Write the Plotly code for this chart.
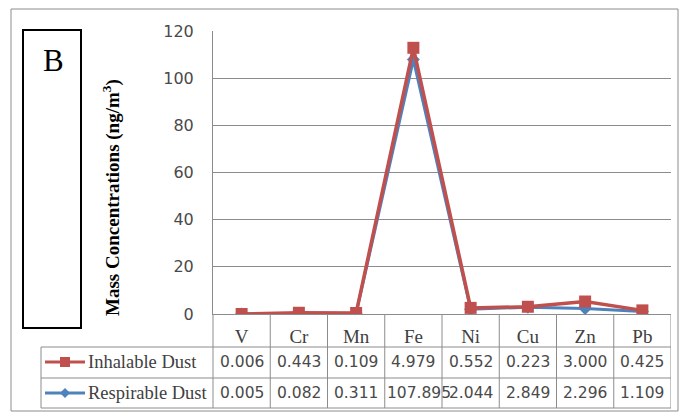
import plotly.graph_objects as go

# ---- data ----
categories = ["V", "Cr", "Mn", "Fe", "Ni", "Cu", "Zn", "Pb"]
inhalable = [0.006, 0.443, 0.109, 4.979, 0.552, 0.223, 3.000, 0.425]
respirable = [0.005, 0.082, 0.311, 107.895, 2.044, 2.849, 2.296, 1.109]
y_ticks = [0, 20, 40, 60, 80, 100, 120]
series_names = ["Inhalable Dust", "Respirable Dust"]

# stacked line chart: inhalable stacked on top of respirable
inhalable_stacked = [a + b for a, b in zip(inhalable, respirable)]

RED = "#C0504D"
BLUE = "#4F81BD"
GRID = "#8c8c8c"
TXT = "#404040"
NUM = "#4a4a4a"
FONT = "Liberation Serif"
NUMFONT = "DejaVu Sans"

W, H = 679, 412
L, R, T, B = 213, 8, 31, 98


def px(x):
    return (x - L) / (W - L - R)


def py(y):
    return (H - B - y) / (H - T - B)


fig = go.Figure()
x_idx = list(range(len(categories)))
fig.add_trace(go.Scatter(
    x=x_idx, y=respirable, mode="lines+markers", name=series_names[1],
    line=dict(color=BLUE, width=3),
    marker=dict(symbol="diamond", size=10, color=BLUE),
))
fig.add_trace(go.Scatter(
    x=x_idx, y=inhalable_stacked, mode="lines+markers", name=series_names[0],
    line=dict(color=RED, width=3.5),
    marker=dict(symbol="square", size=12, color=RED),
))

shapes = []
line_style = dict(color=GRID, width=1)
# outer border
shapes.append(dict(type="rect", xref="paper", yref="paper",
                   x0=px(11), x1=px(678), y0=py(9), y1=py(411), line=line_style))
# box with letter B
shapes.append(dict(type="rect", xref="paper", yref="paper",
                   x0=px(23), x1=px(81), y0=py(30), y1=py(328),
                   line=dict(color="black", width=2)))
# table horizontal lines
for yy in (347, 378, 408):
    shapes.append(dict(type="line", xref="paper", yref="paper",
                       x0=px(41), x1=1, y0=py(yy), y1=py(yy), line=line_style))
# table vertical lines
shapes.append(dict(type="line", xref="paper", yref="paper",
                   x0=px(41), x1=px(41), y0=py(347), y1=py(408), line=line_style))
shapes.append(dict(type="line", xref="paper", yref="paper",
                   x0=0, x1=0, y0=0, y1=py(408), line=line_style))
for k in range(1, len(categories) + 1):
    shapes.append(dict(type="line", xref="x", yref="paper",
                       x0=k - 0.5, x1=k - 0.5, y0=0, y1=py(408), line=line_style))
# legend keys
shapes.append(dict(type="line", xref="paper", yref="paper",
                   x0=px(45), x1=px(85), y0=py(362), y1=py(362),
                   line=dict(color=RED, width=3)))
shapes.append(dict(type="rect", xref="paper", yref="paper",
                   x0=px(60), x1=px(70), y0=py(357), y1=py(367),
                   fillcolor=RED, line=dict(width=0)))
shapes.append(dict(type="line", xref="paper", yref="paper",
                   x0=px(45), x1=px(85), y0=py(393), y1=py(393),
                   line=dict(color=BLUE, width=3)))
shapes.append(dict(type="path", xref="paper", yref="paper",
                   path=(f"M {px(65)},{py(388)} L {px(70)},{py(393)} "
                         f"L {px(65)},{py(398)} L {px(60)},{py(393)} Z"),
                   fillcolor=BLUE, line=dict(width=0)))

annotations = []
# table values (wide numbers overflow from the left edge of their cell)
for row_vals, yy in ((inhalable, 362), (respirable, 393)):
    for i, v in enumerate(row_vals):
        txt = f"{v:.3f}"
        wide = len(txt) > 5
        annotations.append(dict(x=(i - 0.5) if wide else i, y=py(yy),
                                xref="x", yref="paper",
                                text=txt, showarrow=False,
                                xanchor="left" if wide else "center",
                                yanchor="middle",
                                font=dict(family=NUMFONT, size=15.5, color=NUM)))
# legend labels
for name, yy in ((series_names[0], 362), (series_names[1], 393)):
    annotations.append(dict(x=px(86), y=py(yy), xref="paper", yref="paper",
                            text=name, showarrow=False,
                            xanchor="left", yanchor="middle",
                            font=dict(family=FONT, size=18.5, color=TXT)))
# y-axis title
annotations.append(dict(x=px(111), y=py(198), xref="paper", yref="paper",
                        text="<b>Mass Concentrations (ng/m<sup>3</sup>)</b>",
                        textangle=-90, showarrow=False,
                        xanchor="center", yanchor="middle",
                        font=dict(family=FONT, size=19, color="black")))
# panel letter
annotations.append(dict(x=px(53), y=py(61), xref="paper", yref="paper",
                        text="B", showarrow=False,
                        xanchor="center", yanchor="middle",
                        font=dict(family=FONT, size=31, color="black")))

fig.update_layout(
    width=W, height=H,
    margin=dict(l=L, r=R, t=T, b=B, pad=0),
    paper_bgcolor="white", plot_bgcolor="white",
    showlegend=False,
    shapes=shapes, annotations=annotations,
    xaxis=dict(range=[-0.5, len(categories) - 0.5],
               tickmode="array", tickvals=x_idx, ticktext=categories,
               showgrid=False, zeroline=False,
               showline=True, linecolor=GRID, linewidth=1,
               ticks="", ticklabelstandoff=5,
               tickfont=dict(family=FONT, size=19, color=TXT)),
    yaxis=dict(range=[0, 120], tickmode="array", tickvals=y_ticks,
               showgrid=True, gridcolor=GRID, gridwidth=1,
               zeroline=False, showline=True, linecolor=GRID, linewidth=1,
               ticks="", ticklabelstandoff=15,
               tickfont=dict(family=NUMFONT, size=16, color=NUM)),
)

fig.write_html(
    "out.html",
    config={"displayModeBar": False},
    post_script="document.body.style.margin='0';document.body.style.padding='0';"
                "document.body.style.overflow='hidden';",
)
